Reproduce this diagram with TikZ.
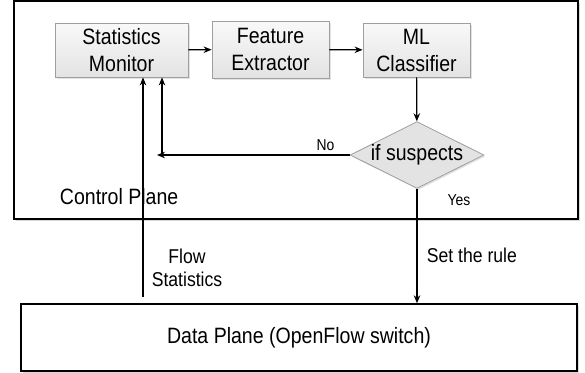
\documentclass[tikz,border=0pt]{standalone}
\usepackage{fontspec}
\setmainfont{Liberation Sans}[FakeStretch=0.88]
\usetikzlibrary{arrows.meta, shapes.geometric, shadows}

\begin{document}
\begin{tikzpicture}[x=1pt, y=-1pt, >={Stealth[length=8pt,width=6.5pt]}, line width=1.2pt,
    blk/.style={draw=gray!75, line width=0.8pt, top color=gray!5, bottom color=gray!22,
        align=center, font=\fontsize{22.2}{27}\selectfont, inner sep=0pt,
        drop shadow={shadow xshift=1.5pt, shadow yshift=-1.5pt, fill=gray!45}},
    plane/.style={draw, line width=1.4pt, fill=white,
        drop shadow={shadow xshift=1.5pt, shadow yshift=-1.5pt, fill=gray!60}},
    lbl/.style={font=\fontsize{15.8}{18}\selectfont},
    midlbl/.style={font=\fontsize{20}{23}\selectfont, align=center}]
    \useasboundingbox (0,0) rectangle (585,372);
    % Planes
    \node[plane, minimum width=564pt, minimum height=218pt] (ctrl) at (296,110) {};
    \node[plane, minimum width=556pt, minimum height=67pt, font=\fontsize{22.2}{27}\selectfont] (data) at (299,337.5) {Data Plane (OpenFlow switch)};
    \node[anchor=base west, font=\fontsize{22.2}{27}\selectfont] (ctrllbl) at (56,204) {Control Plane};
    % Blocks
    \node[blk, minimum width=133pt, minimum height=54pt] (mon) at (121.5,50) {Statistics\\Monitor};
    \node[blk, minimum width=117pt, minimum height=57pt] (feat) at (270.5,49.5) {Feature\\Extractor};
    \node[blk, minimum width=107pt, minimum height=54pt] (cls) at (416.5,50) {ML\\Classifier};
    \node[blk, shape=diamond, aspect=2, minimum width=132pt, minimum height=65pt,
        top color=gray!22, bottom color=gray!22] (dia) at (417,155) {if suspects};
    % Connectors
    \draw[->] (mon) -- (feat);
    \draw[->] (feat) -- (cls);
    \draw[->] (cls) -- (dia);
    \coordinate (nobend) at (162,155);
    \draw[->] (dia.west) -- ([xshift=-5pt]nobend);
    \draw[->] (nobend) -- (nobend |- mon.south);
    \coordinate (flowstart) at (143,297);
    \draw[->] (flowstart) -- (flowstart |- mon.south);
    \draw[->] (dia.south) -- (dia.south |- data.north);
    % Labels
    \node[lbl] (nolbl) at (325.5,145.5) {No};
    \node[lbl] (yeslbl) at (459,200) {Yes};
    \node[midlbl] (flowlbl) at (187,267.5) {Flow\\Statistics};
    \node[midlbl, anchor=base west] (rulelbl) at (423,262) {Set the rule};
\end{tikzpicture}
\end{document}
